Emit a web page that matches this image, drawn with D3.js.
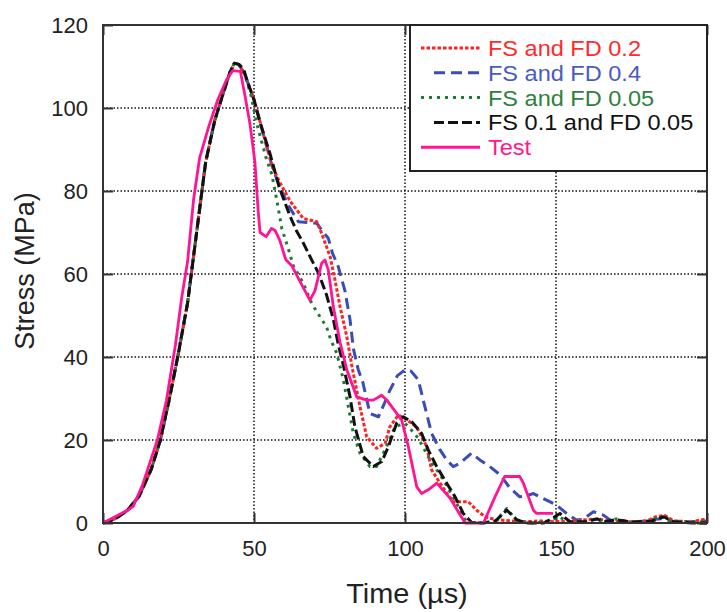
<!DOCTYPE html>
<html>
<head>
<meta charset="utf-8">
<script src="https://cdn.jsdelivr.net/npm/d3@7"></script>
<style>
  body { margin: 0; background: #fff; }
  text { font-family: "Liberation Sans", Arial, sans-serif; }
</style>
</head>
<body>
<div id="chart"></div>
<script>
// shared rising part of the simulations
var rise = [[0,0],[4,1],[8,3],[12,6.5],[16,13],[19,20],[22,30],[25,41],[28,53],[31,70],[34,87],[37,97],[40,104],[42,108.5],[43.5,110.8],[45,110.5]];

var fd02 = rise.concat([[47,108],[50,102],[53,94],[56,86],[58.6,82],[62,77.5],[66.3,73.4],[70.8,72.6],[72.4,69.8],[75.2,64.2],[76.8,58.6],[78.5,52.1],[80.7,45],[82.5,37.5],[85.1,28],[87.3,20.8],[90.6,18],[93.4,19.2],[95,23.2],[97.8,26],[100,25.2],[103.8,23.2],[107.2,18.4],[108.8,12.8],[111.6,9.6],[114,7],[116,5.1],[121,5.1],[123.7,3.1],[126.5,1.5],[130,0.8],[135,0.5],[140,0.3],[145,0.5],[150,0.3],[155,0.5],[160,0.8],[164,1],[168,0.3],[175,0.3],[180,0.5],[183,1.5],[186,1.8],[189,0.5],[195,0.3],[200,1]]);

var fd04 = rise.concat([[47,108],[50,102],[53,94],[56,86],[58,82],[61,77],[64.7,72.6],[70.8,72.2],[72.5,70.5],[74.6,68.6],[76,65],[77.9,61.8],[80.1,56],[81.8,49],[82.9,42],[84.5,37],[86,34],[88.4,26.4],[91.2,25.6],[93,28.5],[95,32],[97.5,35.5],[100,36.9],[102,36.6],[104.4,34.5],[106.6,28],[108.8,21.6],[111.6,17.6],[114,15],[116,13.6],[118.2,14.4],[122,16.8],[124.8,15.2],[128.1,13.6],[131.5,11.6],[134.8,8.4],[138,6.3],[140,6.5],[142.5,7.1],[146.9,5.5],[150.2,4.3],[153.5,2.3],[156.8,0.7],[159,0.9],[162.4,2.7],[165.7,1.9],[168,0.7],[172,0.3],[178,0.3],[181,0.8],[185,1],[189,0.3],[195,0.3],[200,0.5]]);

var fd005 = rise.concat([[47,108],[49,103],[51,96],[52.5,92],[54,88],[55.9,84],[57.5,78],[59.2,71],[61.4,66],[63,62],[66.3,57.8],[69.1,52.9],[72,49.5],[74,47.3],[75.5,44],[77.4,40.9],[79.6,34.5],[81.5,27],[82.9,21.6],[85.1,16.8],[88.4,13.6],[90.6,13.6],[93.9,18.4],[96.7,23.2],[100,24],[102,22.5],[104.4,20.4],[108.3,15.2],[112.7,10.4],[117.1,4.7],[120.4,0.2],[126,0],[130,0.5],[133.7,3.5],[137,0.5],[142,0],[147,0.3],[151,1.5],[154,0.3],[160,0.3],[163,1],[166,0.3],[170,1],[174,0.3],[180,0.3],[185,1.5],[188,0.5],[195,0.3],[200,0.5]]);

var fs01 = rise.concat([[46.5,109.5],[48,106],[50,102],[52,96.5],[55.3,89],[58.3,81],[61.9,74],[64,70.5],[66.3,67.5],[69.1,63.4],[71.5,60],[74,55],[76.3,49],[77.9,43],[79.6,38],[81.8,30.4],[83.4,23.2],[86.2,16],[89.5,13.6],[92.3,14.8],[94.5,18.4],[97.2,24],[99.4,25.6],[102.2,24.4],[105.5,21.6],[107.7,17.6],[110.5,13.6],[113.8,9.6],[116.6,6.3],[119.3,2.3],[122,0.2],[126,0],[130,0.5],[133.7,3.1],[137,0.8],[140,0],[146,0],[148.5,1],[151.3,2.3],[154.6,0.3],[160,0.3],[163.6,1],[166,0.3],[170,0.8],[175,0.2],[182,0.5],[185.6,1.5],[189,0.3],[195,0],[200,0]]);

var test = [[0,0],[4,1.5],[8,3],[10,4],[13,9],[15.5,14.5],[18,20],[21,29.5],[24,43],[26,54],[28,63],[30,78],[32,88],[35,95.5],[38,102],[41,107],[43,109],[45.5,108.8],[47,103],[48.7,96],[50.3,87],[51.4,75],[52,70],[54,69],[55.8,71],[57,70.5],[58.6,68],[60.5,63.5],[62.5,62],[65,58.5],[68.5,53.7],[70.2,56],[72.4,62.6],[73.5,63.4],[74.6,61],[76.3,52],[78.5,43.5],[80.7,37],[84,30.4],[87.3,29.6],[89.5,29.6],[92.3,30.8],[94,29.6],[98.9,24.8],[101.1,18.4],[103.9,8.7],[105.5,7.1],[107.7,8],[110.5,9.6],[114.9,6],[119.3,0.7],[120,0],[126,0],[129.8,6.3],[133,11.2],[138,11.2],[139.2,9.6],[142.5,3.1],[143.6,2.3],[149,2.3]];

var xTicks = [0, 50, 100, 150, 200];
var yTicks = [0, 20, 40, 60, 80, 100, 120];

var series = [
  {name: "FS and FD 0.4", data: fd04, color: "#3a4cb8", dash: "11,6", text: "#4a5ac4"},
  {name: "FS and FD 0.2", data: fd02, color: "#ff2222", dash: "3.5,2", text: "#ff2a2a"},
  {name: "FS and FD 0.05", data: fd005, color: "#1f7a35", dash: "3,5", text: "#2f7f3f"},
  {name: "FS 0.1 and FD 0.05", data: fs01, color: "#111111", dash: "10,4", text: "#111111"},
  {name: "Test", data: test, color: "#ff1493", dash: null, text: "#ff1a8c"}
];
var legendOrder = ["FS and FD 0.2", "FS and FD 0.4", "FS and FD 0.05", "FS 0.1 and FD 0.05", "Test"];

var W = 727, H = 612;
var m = {left: 103, top: 25, right: 20, bottom: 89};
var w = W - m.left - m.right, h = H - m.top - m.bottom;
var sx = 1.07; // the source text is a bit wide

var svg = d3.select("#chart").append("svg")
  .attr("width", W)
  .attr("height", H);

var g = svg.append("g")
  .attr("transform", "translate(" + m.left + "," + m.top + ")");

var x = d3.scaleLinear().domain([0, 200]).range([0, w]);
var y = d3.scaleLinear().domain([0, 120]).range([h, 0]);

// grid
g.selectAll(".gx").data(xTicks.slice(1, -1)).enter().append("line")
  .attr("x1", d => x(d)).attr("x2", d => x(d))
  .attr("y1", 0).attr("y2", h)
  .attr("stroke", "#111").attr("stroke-width", 1.5)
  .attr("stroke-dasharray", "1.5,2");
g.selectAll(".gy").data(yTicks.slice(1, -1)).enter().append("line")
  .attr("x1", 0).attr("x2", w)
  .attr("y1", d => y(d)).attr("y2", d => y(d))
  .attr("stroke", "#111").attr("stroke-width", 1.5)
  .attr("stroke-dasharray", "1.5,2");

// axes, ticks inward
var tk = 10;
g.append("g").attr("transform", "translate(0," + h + ")")
  .call(d3.axisBottom(x).tickValues(xTicks).tickSizeInner(-tk).tickSizeOuter(0).tickPadding(17));
g.append("g")
  .call(d3.axisTop(x).tickValues(xTicks).tickSizeInner(-tk).tickSizeOuter(0).tickFormat(""));
g.append("g")
  .call(d3.axisLeft(y).tickValues(yTicks).tickSizeInner(-tk).tickSizeOuter(0).tickPadding(15));
g.append("g").attr("transform", "translate(" + w + ",0)")
  .call(d3.axisRight(y).tickValues(yTicks).tickSizeInner(-tk).tickSizeOuter(0).tickFormat(""));

g.selectAll(".domain").remove();
g.selectAll(".tick line").attr("stroke", "#333").attr("stroke-width", 2);
g.selectAll(".tick text")
  .attr("font-size", 22)
  .attr("fill", "#222")
  .style("font-family", "'Liberation Sans', Arial, sans-serif");

// lines
var line = d3.line()
  .x(d => x(d[0]))
  .y(d => y(d[1]));

series.forEach(function(s) {
  g.append("path")
    .datum(s.data)
    .attr("fill", "none")
    .attr("stroke", s.color)
    .attr("stroke-width", s.dash ? 3 : 2.8)
    .attr("stroke-linejoin", "round")
    .attr("stroke-dasharray", s.dash)
    .attr("d", line);
});

// frame
g.append("rect")
  .attr("width", w).attr("height", h)
  .attr("fill", "none")
  .attr("stroke", "#333").attr("stroke-width", 2);

// legend
var lg = g.append("g").attr("transform", "translate(" + (w - 297) + ",0)");
lg.append("rect")
  .attr("width", 297).attr("height", 146)
  .attr("fill", "#fff")
  .attr("stroke", "#222").attr("stroke-width", 2);

legendOrder.forEach(function(name, i) {
  var s = series.find(d => d.name === name);
  var yy = 23 + i * 24.8;
  var x0 = (s.name === "FS and FD 0.4" || s.name === "FS 0.1 and FD 0.05") ? 24 : 11;
  lg.append("line")
    .attr("x1", x0).attr("x2", 70)
    .attr("y1", yy).attr("y2", yy)
    .attr("stroke", s.color)
    .attr("stroke-width", 3)
    .attr("stroke-dasharray", s.dash);
  lg.append("text")
    .attr("transform", "translate(78," + yy + ") scale(" + sx + ",1)")
    .attr("dy", "0.36em")
    .attr("font-size", 22)
    .attr("fill", s.text)
    .text(s.name);
});

// axis titles
svg.append("text")
  .attr("transform", "translate(" + (m.left + w / 2 + 2) + ",603) scale(" + sx + ",1)")
  .attr("text-anchor", "middle")
  .attr("font-size", 27)
  .attr("fill", "#222")
  .text("Time  (\u00b5s)");

svg.append("text")
  .attr("transform", "translate(34," + (m.top + h / 2 - 3) + ") rotate(-90)")
  .attr("text-anchor", "middle")
  .attr("font-size", 27)
  .attr("fill", "#222")
  .text("Stress (MPa)");
</script>
</body>
</html>
